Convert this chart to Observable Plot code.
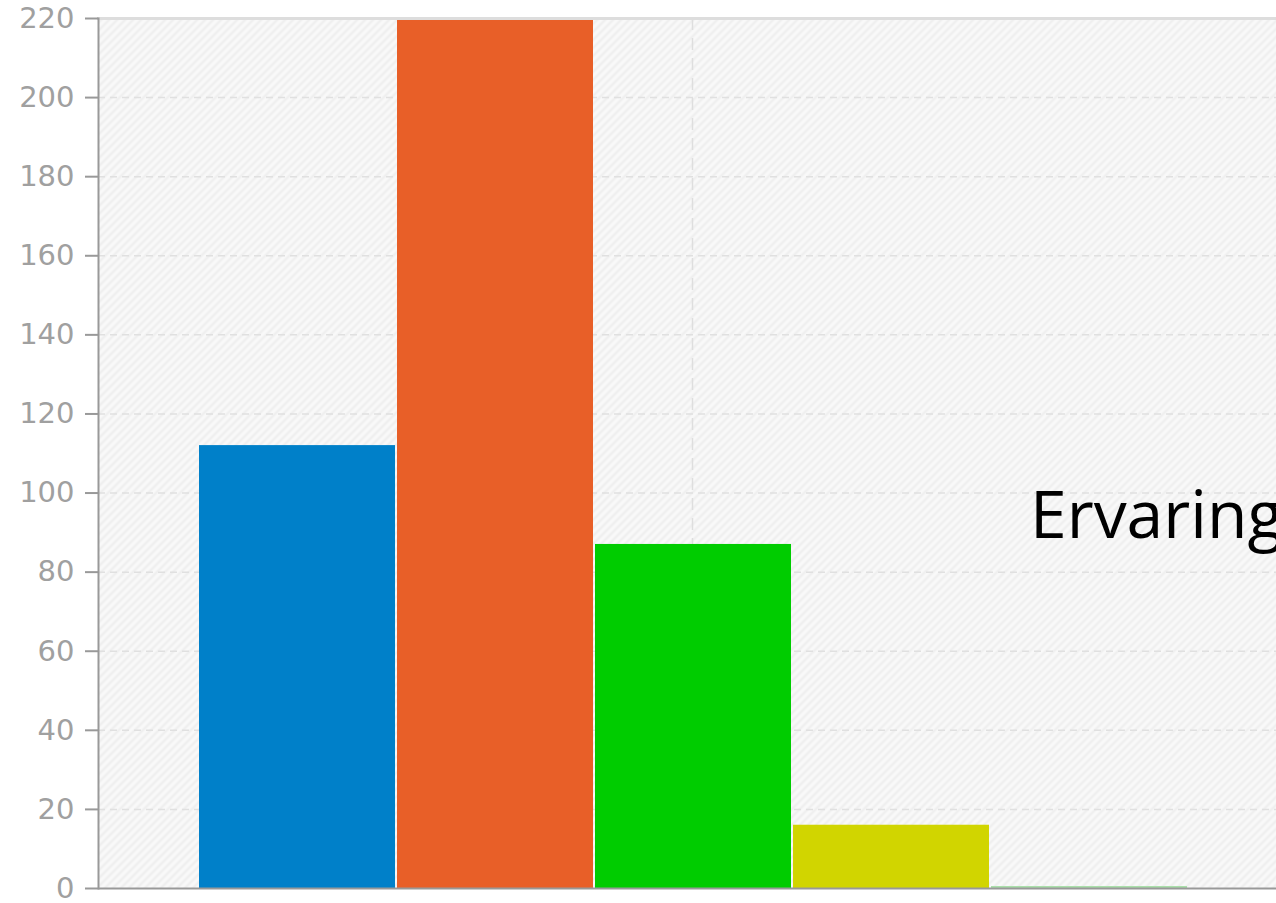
<!DOCTYPE html>
<html>
<head>
<meta charset="utf-8">
<script src="https://cdn.jsdelivr.net/npm/d3@7"></script>
<script src="https://cdn.jsdelivr.net/npm/@observablehq/plot@0.6"></script>
<style>
  html, body { margin: 0; padding: 0; background: #fff; overflow: hidden; }
  #chart { position: relative; width: 1276px; height: 903px; }
</style>
</head>
<body>
<div id="chart"></div>
<script>
const categories = ["Zeer goed", "Goed", "Neutraal", "Slecht", "Zeer slecht"];
const values = [112, 220, 87, 16, 0.5];
const colors = ["#0080c9", "#e85f28", "#00cc00", "#d1d500", "#a9dfa9"];
const yTicks = [0, 20, 40, 60, 80, 100, 120, 140, 160, 180, 200, 220];
const overlayLabel = "Ervaring";

const data = categories.map((c, i) => ({category: c, value: values[i], color: colors[i]}));

const chart = Plot.plot({
  width: 1276,
  height: 903,
  marginTop: 18,
  marginBottom: 15,
  marginLeft: 98,
  marginRight: -10,
  style: {background: "transparent", overflow: "visible"},
  x: {domain: categories, paddingInner: 0, paddingOuter: 0.5, axis: null, label: null},
  y: {domain: [0, 220], axis: null, label: null},
  marks: [
    Plot.frame({fill: "url(#hatch)", stroke: "none"}),
    Plot.ruleY(yTicks.slice(1, -1), {stroke: "#e0e0e0", strokeWidth: 1.5, strokeDasharray: "7,5"}),
    Plot.ruleX([categories[2]], {stroke: "#dedede", strokeWidth: 1.5, strokeDasharray: "12,8"}),
    Plot.barY(data, {x: "category", y: "value", fill: "color", insetLeft: 2, insetRight: 0}),
    Plot.frame({anchor: "top", stroke: "#dddddd", strokeWidth: 3}),
    Plot.ruleY([0], {stroke: "#999", strokeWidth: 2}),
    Plot.frame({anchor: "left", stroke: "#999", strokeWidth: 2}),
    Plot.axisY({
      ticks: yTicks,
      label: null,
      tickSize: 13,
      tickPadding: 11,
      tickFormat: d => String(d),
      fontSize: 29,
      fontFamily: "DejaVu Sans",
      color: "#a0a0a0",
      stroke: "#999",
      strokeWidth: 2
    })
  ]
});

const svg = d3.select(chart);
const defs = svg.insert("defs", ":first-child");
const pat = defs.append("pattern")
  .attr("id", "hatch")
  .attr("patternUnits", "userSpaceOnUse")
  .attr("width", 8).attr("height", 8);
pat.append("rect").attr("width", 8).attr("height", 8).attr("fill", "#f9f9f9");
pat.append("path")
  .attr("d", "M-2,2 L2,-2 M0,8 L8,0 M6,10 L10,6")
  .attr("stroke", "#efefef")
  .attr("stroke-width", 2.5);

svg.append("text")
  .attr("x", 1030)
  .attr("y", 538)
  .attr("text-anchor", "start")
  .attr("font-family", "Open Sans")
  .attr("font-size", 66)
  .attr("fill", "#000")
  .text(overlayLabel);

document.getElementById("chart").appendChild(chart);
</script>
</body>
</html>
